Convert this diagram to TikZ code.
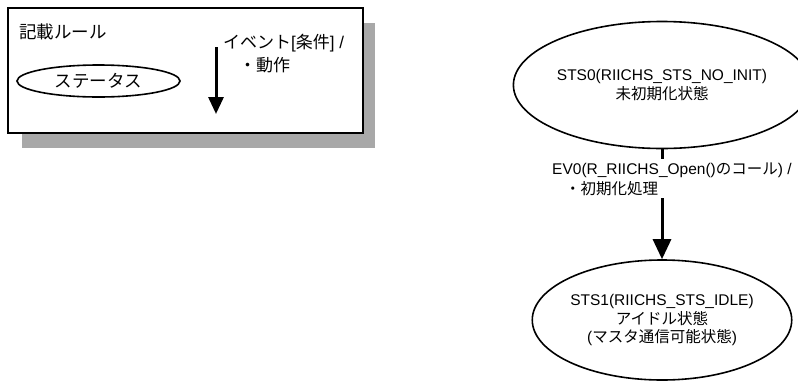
\documentclass[tikz,border=0pt]{standalone}
\usepackage{fontspec}
\setmainfont{Liberation Sans}
\newfontfamily\jpfont{Noto Sans CJK JP}
\newcommand\jp[1]{{\jpfont #1}}
\usetikzlibrary{arrows.meta,shapes.geometric}
\definecolor{shadowgray}{RGB}{168,168,168}
\begin{document}
\begin{tikzpicture}[x=1pt,y=-1pt,
  font=\fontsize{15.5}{18.5}\selectfont,
  statenode/.style={ellipse,draw,line width=1.6pt,inner sep=0pt,align=center},
  conn/.style={line width=3pt,-{Triangle[width=18pt,length=20pt]}},
  legconn/.style={line width=3pt,-{Triangle[width=15pt,length=17pt]}},
  lbl/.style={inner sep=0pt,align=left}]
\useasboundingbox (0,0) rectangle (798,381);
% legend
\fill[shadowgray] (22,23) rectangle (375,148);
\draw[fill=white,line width=1.6pt] (8,8) rectangle (363,133);
\node[lbl,anchor=base west,font=\fontsize{17.5}{23}\selectfont] (title) at (19,38.5) {\jp{記載ルール}};
\node[statenode,minimum width=163pt,minimum height=32pt,font=\fontsize{17.5}{23}\selectfont] (legstate) at (98.5,81) {\jp{ステータス}};
\coordinate (la1) at (216,47);
\coordinate (la2) at (216,114);
\draw[legconn] (la1) -- (la2);
\node[lbl,anchor=base west,font=\fontsize{17}{23}\selectfont] (leglabel) at (223,71.5) {\jp{イベント}[\jp{条件}] /\\\hspace*{16pt}\jp{・動作}};
% states
\node[statenode,minimum width=248pt,minimum height=127pt] (s0) at (662,85)
  {STS0(RIICHS\_STS\_NO\_INIT)\\\jp{未初期化状態}};
\node[statenode,minimum width=243pt,minimum height=120pt] (s1) at (662,320)
  {STS1(RIICHS\_STS\_IDLE)\\\jp{アイドル状態}\\(\jp{マスタ通信可能状態})};
\draw[conn] (s0) -- (s1);
\node[lbl,anchor=base west,fill=white,inner xsep=0pt,inner ysep=3pt,font=\fontsize{15.5}{20}\selectfont] (ev0) at (552,194)
  {EV0(R\_RIICHS\_Open()\jp{のコール}) /\\\hspace*{13pt}\jp{・初期化処理}};
\end{tikzpicture}
\end{document}
